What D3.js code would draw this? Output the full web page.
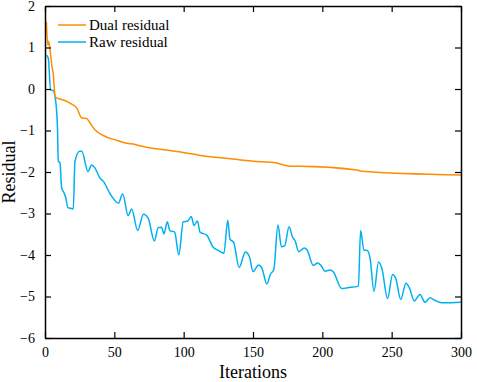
<!DOCTYPE html>
<html>
<head>
<meta charset="utf-8">
<script src="https://cdn.jsdelivr.net/npm/d3@7"></script>
<style>
  body { margin: 0; background: #fff; }
  svg text { font-family: "Liberation Serif", "Times New Roman", serif !important; fill: #000; }
</style>
</head>
<body>
<svg id="chart" width="477" height="382"></svg>
<script>
// values
let dualIters = [1, 2, 2.5, 3.5, 5, 6, 7.2, 8.5, 11, 18, 23, 26.5, 30, 32.5, 36, 42, 52, 58, 62, 76, 90, 102, 112, 131, 150, 165, 177, 184, 225, 228, 300]
let dualValues = [1.62, 1.06, 1.15, 0.98, 0.55, 0.35, -0.16, -0.22, -0.24, -0.34, -0.46, -0.70, -0.71, -0.82, -0.98, -1.12, -1.24, -1.30, -1.32, -1.42, -1.48, -1.54, -1.60, -1.67, -1.74, -1.77, -1.86, -1.86, -1.95, -1.98, -2.07]

let rawIters = [1, 2.4, 4, 6, 7.2, 8, 9, 9.6, 10.8, 12, 13.7, 15, 16.5, 19, 20.4, 21.6, 25, 26.5, 31, 33.6, 36, 39.7, 42, 47, 53, 56, 60, 62.5, 66.8, 71, 74.5, 78.8, 81.7, 84, 85.8, 88.2, 90, 93.5, 96.5, 99.7, 103, 105.5, 107.4, 109.9, 111.8, 116.6, 121, 125, 129, 131.8, 133.4, 136, 140, 144.5, 147.5, 150, 154, 156.5, 160, 162.5, 165, 168, 170.5, 172.8, 176, 178.4, 180.5, 183, 187, 189, 193.5, 196.6, 199, 202, 206, 208, 214, 218, 226, 227.6, 230, 232.4, 234.4, 237.3, 240.5, 243, 247, 250.7, 253, 256.5, 260.3, 263, 266.3, 270.4, 274, 277.6, 281, 286, 293, 300]
let rawValues = [0.82, 0.74, -0.02, -0.04, -0.18, -0.38, -0.94, -1.74, -1.78, -2.38, -2.50, -2.62, -2.86, -2.88, -2.89, -1.74, -1.50, -1.50, -1.99, -1.83, -1.90, -2.15, -2.22, -2.53, -2.75, -2.53, -3.05, -2.89, -3.41, -3.02, -3.12, -3.66, -3.34, -3.33, -3.49, -3.20, -3.41, -3.45, -4.00, -3.20, -3.18, -3.07, -3.29, -3.18, -3.45, -3.52, -3.80, -3.89, -3.96, -3.16, -3.62, -3.69, -4.30, -3.93, -4.05, -4.40, -4.24, -4.32, -4.70, -4.47, -4.35, -3.28, -3.80, -3.78, -3.32, -3.56, -3.67, -3.92, -3.83, -3.88, -4.25, -4.19, -4.25, -4.39, -4.36, -4.41, -4.81, -4.79, -4.75, -3.41, -3.88, -3.89, -4.07, -4.88, -4.17, -4.33, -5.05, -4.47, -4.57, -5.07, -4.68, -4.81, -5.11, -4.95, -5.14, -5.03, -5.09, -5.15, -5.15, -5.14]

let seriesNames = ['Dual residual', 'Raw residual']
let seriesColors = ['#ff8c00', '#00b0f0']
let xTicks = [0, 50, 100, 150, 200, 250, 300]
let yTicks = [-6, -5, -4, -3, -2, -1, 0, 1, 2]

let svg = d3.select('#chart')
let margin = {top: 6, right: 16, bottom: 44, left: 45}
let width = +svg.attr('width') - margin.left - margin.right
let height = +svg.attr('height') - margin.top - margin.bottom
let g = svg.append('g').attr('transform', 'translate(' + margin.left + ',' + margin.top + ')')

let x = d3.scaleLinear().domain([0, 300]).range([0, width])
let y = d3.scaleLinear().domain([-6, 2]).range([height, 0])

let line = d3.line()
    .x(d => x(d[0]))
    .y(d => y(d[1]))
    .curve(d3.curveMonotoneX)

let series = [
    d3.zip(dualIters, dualValues),
    d3.zip(rawIters, rawValues)
]

// raw first so the dual line sits on top
g.append('path')
    .datum(series[1])
    .attr('fill', 'none')
    .attr('stroke', seriesColors[1])
    .attr('stroke-width', 1.5)
    .attr('d', line)

g.append('path')
    .datum(series[0])
    .attr('fill', 'none')
    .attr('stroke', seriesColors[0])
    .attr('stroke-width', 1.5)
    .attr('d', line)

// axes, ticks pointing inward on all four sides
let styleAxis = sel => {
    sel.attr('font-family', null).attr('font-size', null)
    sel.select('.domain').attr('stroke', '#000').attr('stroke-width', 1.5)
    sel.selectAll('.tick line').attr('stroke', '#000').attr('stroke-width', 1.2)
    sel.selectAll('.tick text')
        .style('font-family', '"Liberation Serif", "Times New Roman", serif')
        .style('font-size', '14px')
}

g.append('g')
    .attr('transform', 'translate(0,' + height + ')')
    .call(d3.axisBottom(x).tickValues(xTicks).tickSizeInner(-6).tickSizeOuter(0).tickPadding(9))
    .call(styleAxis)

g.append('g')
    .call(d3.axisTop(x).tickValues(xTicks).tickSizeInner(-6).tickSizeOuter(0).tickFormat(''))
    .call(styleAxis)

g.append('g')
    .call(d3.axisLeft(y).tickValues(yTicks).tickSizeInner(-6).tickSizeOuter(0).tickPadding(10))
    .call(styleAxis)

g.append('g')
    .attr('transform', 'translate(' + width + ',0)')
    .call(d3.axisRight(y).tickValues(yTicks).tickSizeInner(-6).tickSizeOuter(0).tickFormat(''))
    .call(styleAxis)

// axis titles
svg.append('text')
    .attr('x', margin.left + width / 2)
    .attr('y', 378)
    .attr('text-anchor', 'middle')
    .attr('font-size', 18)
    .text('Iterations')

svg.append('text')
    .attr('transform', 'translate(15,' + (margin.top + height / 2) + ') rotate(-90)')
    .attr('text-anchor', 'middle')
    .attr('font-size', 18)
    .text('Residual')

// legend
let legend = svg.append('g').attr('transform', 'translate(58,25)')
seriesNames.forEach((name, i) => {
    let row = legend.append('g').attr('transform', 'translate(0,' + (i * 17) + ')')
    row.append('line')
        .attr('x1', 0).attr('x2', 28)
        .attr('stroke', seriesColors[i])
        .attr('stroke-width', 1.5)
    row.append('text')
        .attr('x', 31)
        .attr('y', 5)
        .attr('font-size', 15)
        .text(name)
})
</script>
</body>
</html>
